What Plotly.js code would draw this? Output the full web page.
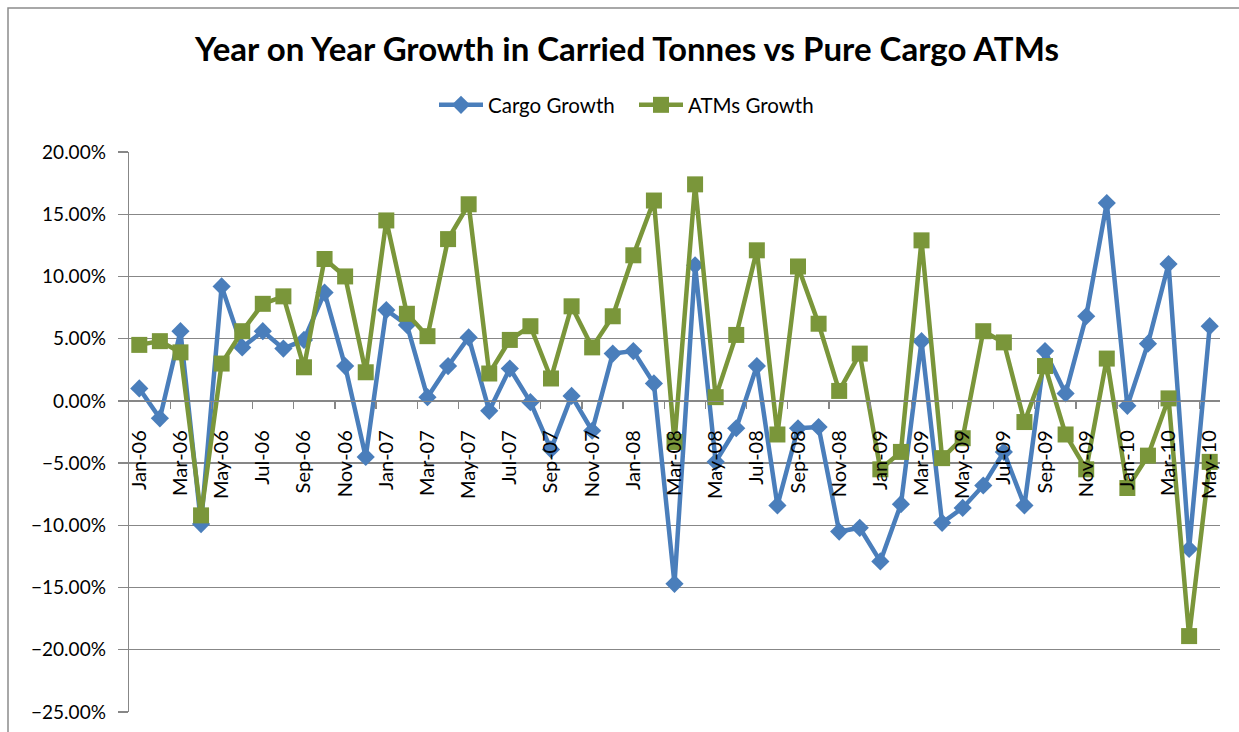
<!DOCTYPE html>
<html>
<head>
<meta charset="utf-8">
<script src="https://cdn.plot.ly/plotly-3.0.1.min.js"></script>
<style>
  html, body { margin: 0; padding: 0; background: #ffffff; }
  #chart { width: 1239px; height: 732px; }
</style>
</head>
<body>
<div id="chart"></div>
<script>
// ---- Data ----
const categories = [
  "Jan-06","Feb-06","Mar-06","Apr-06","May-06","Jun-06","Jul-06","Aug-06","Sep-06","Oct-06","Nov-06","Dec-06",
  "Jan-07","Feb-07","Mar-07","Apr-07","May-07","Jun-07","Jul-07","Aug-07","Sep-07","Oct-07","Nov-07","Dec-07",
  "Jan-08","Feb-08","Mar-08","Apr-08","May-08","Jun-08","Jul-08","Aug-08","Sep-08","Oct-08","Nov-08","Dec-08",
  "Jan-09","Feb-09","Mar-09","Apr-09","May-09","Jun-09","Jul-09","Aug-09","Sep-09","Oct-09","Nov-09","Dec-09",
  "Jan-10","Feb-10","Mar-10","Apr-10","May-10"
];

// Year-on-year growth, in percent
const cargoGrowth = [
  1.0, -1.4, 5.6, -9.9, 9.2, 4.3, 5.6, 4.2, 4.9, 8.7, 2.8, -4.5,
  7.3, 6.1, 0.3, 2.8, 5.1, -0.8, 2.6, -0.1, -3.9, 0.4, -2.4, 3.8,
  4.0, 1.4, -14.7, 10.9, -4.9, -2.2, 2.8, -8.4, -2.2, -2.1, -10.5, -10.2,
  -12.9, -8.3, 4.8, -9.8, -8.6, -6.8, -4.1, -8.4, 4.0, 0.6, 6.8, 15.9,
  -0.4, 4.6, 11.0, -11.9, 6.0
];

const atmsGrowth = [
  4.5, 4.8, 3.9, -9.2, 3.0, 5.6, 7.8, 8.4, 2.7, 11.4, 10.0, 2.3,
  14.5, 7.0, 5.2, 13.0, 15.8, 2.2, 4.9, 6.0, 1.8, 7.6, 4.3, 6.8,
  11.7, 16.1, -3.3, 17.4, 0.3, 5.3, 12.1, -2.7, 10.8, 6.2, 0.8, 3.8,
  -5.5, -4.1, 12.9, -4.6, -3.0, 5.6, 4.7, -1.7, 2.8, -2.7, -5.5, 3.4,
  -7.0, -4.4, 0.2, -18.9, -4.9
];

const seriesNames = ["Cargo Growth", "ATMs Growth"];
const titleText = "Year on Year Growth in Carried Tonnes vs Pure Cargo ATMs";

// ---- Derived axis helpers ----
const xIdx = categories.map((c, i) => i);
const labelIdx = xIdx.filter(i => i % 2 === 0);
const labelText = labelIdx.map(i => categories[i]);
const minorIdx = xIdx.filter(i => i % 2 === 1 && i < categories.length - 1).map(i => i + 0.5);

const yMin = -25, yMax = 20;
const W = 1239, H = 732;
const mL = 129, mR = 19, mT = 152, mB = 20;
const pw = W - mL - mR, ph = H - mT - mB;
const px = v => (v - mL) / pw;
const py = v => (H - mB - v) / ph;

const blue = "#4A7EBB";
const green = "#7A963A";
const grid = "#878787";
const font = "Lato, 'Open Sans', sans-serif";

const traces = [
  {
    x: xIdx, y: cargoGrowth, name: seriesNames[0], type: "scatter", mode: "lines+markers",
    line: { color: blue, width: 4.5 },
    marker: { symbol: "diamond", size: 14, color: blue },
    cliponaxis: false
  },
  {
    x: xIdx, y: atmsGrowth, name: seriesNames[1], type: "scatter", mode: "lines+markers",
    line: { color: green, width: 4.5 },
    marker: { symbol: "square", size: 16, color: green },
    cliponaxis: false
  }
];

const layout = {
  width: W, height: H,
  margin: { l: mL, r: mR, t: mT, b: mB, pad: 0 },
  paper_bgcolor: "#ffffff", plot_bgcolor: "#ffffff",
  font: { family: font, color: "#000000", size: 18 },
  title: {
    text: "<b>" + titleText + "</b>",
    font: { family: font, size: 33, color: "#000000" },
    xref: "container", x: 627 / W, xanchor: "center",
    yref: "container", y: 1 - 49 / H, yanchor: "middle"
  },
  showlegend: true,
  legend: {
    orientation: "h", xref: "paper", yref: "paper",
    x: px(634), xanchor: "center", y: py(105), yanchor: "middle",
    font: { family: font, size: 20.5, color: "#000000" },
    itemwidth: 44, entrywidth: 141, entrywidthmode: "pixels",
    bgcolor: "rgba(0,0,0,0)"
  },
  xaxis: {
    type: "linear", range: [-0.5, categories.length - 0.5],
    anchor: "free", position: (0 - yMin) / (yMax - yMin),
    tickmode: "array", tickvals: labelIdx, ticktext: labelText,
    tickangle: -90, ticks: "outside", ticklen: 20, tickcolor: "rgba(0,0,0,0)",
    tickfont: { family: font, size: 20, color: "#000000" },
    showline: true, linecolor: grid, linewidth: 1.3,
    showgrid: false, zeroline: false,
    minor: { tickmode: "array", tickvals: minorIdx, ticks: "outside", ticklen: 7, tickcolor: grid, tickwidth: 1.3, showgrid: false }
  },
  yaxis: {
    range: [yMin, yMax], dtick: 5, tick0: 0,
    tickformat: ".2f", ticksuffix: "%",
    ticks: "outside", ticklen: 10, tickcolor: grid, tickwidth: 1.3,
    ticklabelstandoff: 8,
    tickfont: { family: font, size: 19, color: "#000000" },
    showline: true, linecolor: grid, linewidth: 1.3,
    showgrid: true, gridcolor: grid, gridwidth: 1.3,
    zeroline: false
  },
  shapes: [
    {
      type: "rect", xref: "paper", yref: "paper",
      x0: px(8), x1: px(1250), y0: py(745), y1: py(8),
      line: { color: "#8c8c8c", width: 1.5 }, fillcolor: "rgba(0,0,0,0)", layer: "below"
    }
  ]
};

Plotly.newPlot("chart", traces, layout, { displayModeBar: false, staticPlot: true });
</script>
</body>
</html>
